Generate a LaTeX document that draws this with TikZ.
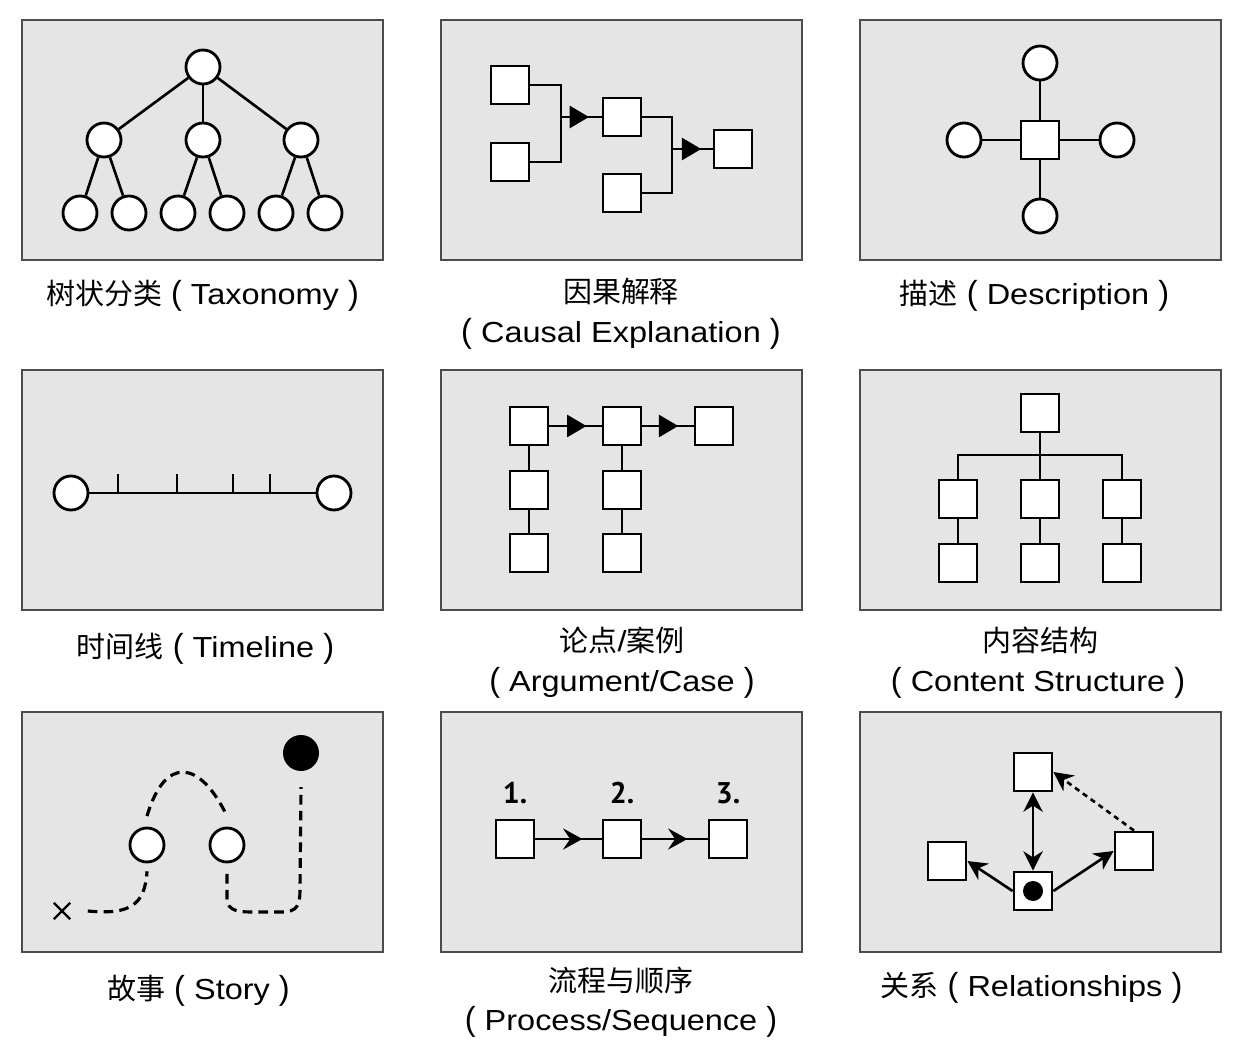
\documentclass[tikz,border=0pt]{standalone}
\usepackage{fontspec}
\setmainfont{Liberation Sans}[FakeStretch=1.12]
\newfontfamily\cjk{Noto Sans CJK SC}
\newfontfamily\numfont{PT Sans}
\newcommand\lpar{\makebox[1em]{\scalebox{1}[1.15]{(}}}
\newcommand\rpar{\makebox[1em]{\scalebox{1}[1.15]{)}}}
\usetikzlibrary{arrows.meta,decorations.markings,shapes.misc}

\begin{document}
\begin{tikzpicture}[x=0.02cm,y=-0.02cm,
  panel/.style={draw=black!70,fill=black!10,line width=1.4pt},
  box/.style={draw,fill=white,line width=1.6pt,minimum size=0.76cm,inner sep=0pt},
  dot/.style={circle,draw,fill=white,line width=1.6pt,minimum size=0.68cm,inner sep=0pt},
  link/.style={line width=1.5pt},
  trail/.style={line width=1.8pt,dash pattern=on 5.5pt off 3.5pt},
  caption/.style={font=\fontsize{16.5}{20}\selectfont,inner sep=0pt},
  num/.style={font=\numfont\bfseries\fontsize{17}{20}\selectfont,inner sep=0pt},
  midtri/.style={link,decoration={markings,mark=at position #1 with {\arrow{Triangle[length=11pt,width=12.5pt]}}},postaction={decorate}},
  midstealth/.style={link,decoration={markings,mark=at position #1 with {\arrow{Stealth[length=11pt,width=12pt,inset=4pt]}}},postaction={decorate}},
  relarrow/.style={link,-{Stealth[length=11pt,width=11pt,inset=3.5pt]}},
  relboth/.style={link,{Stealth[length=11pt,width=11pt,inset=3.5pt]}-{Stealth[length=11pt,width=11pt,inset=3.5pt]}},
]
\useasboundingbox (0,0) rectangle (1243,1050);

\foreach \px in {22,441,860}
  \foreach \py in {20,370,712}
    \draw[panel] (\px,\py) rectangle ++(361,240);

% taxonomy
\node[dot] (t0) at (203,67) {};
\foreach \i/\x in {1/104,2/203,3/301}
  \node[dot] (t\i) at (\x,140) {};
\foreach \i/\x in {1/80,2/129,3/178,4/227,5/276,6/325}
  \node[dot] (l\i) at (\x,213) {};
\foreach \i in {1,2,3}
  \draw[link] (t0) -- (t\i);
\draw[link] (t1) -- (l1) (t1) -- (l2) (t2) -- (l3) (t2) -- (l4) (t3) -- (l5) (t3) -- (l6);
\node[caption] (cap1) at (207,296) {{\cjk 树状分类}\lpar Taxonomy\rpar};

% causal
\node[box] (ca) at (510,85) {};
\node[box] (cb) at (510,162) {};
\node[box] (cc) at (622,117) {};
\node[box] (cd) at (622,193) {};
\node[box] (ce) at (733,149) {};
\coordinate (j1) at (561,117);
\coordinate (j2) at (672,149);
\draw[link] (ca) -| (j1) |- (cb);
\draw[midtri=0.69] (j1) -- (cc);
\draw[link] (cc) -| (j2) |- (cd);
\draw[midtri=0.72] (j2) -- (ce);
\node[caption] (cap2) at (621,292) {\cjk 因果解释};
\node[caption] (cap2b) at (621,334) {\lpar Causal Explanation\rpar};

% description
\node[box] (d0) at (1040,140) {};
\node[dot] (d1) at (1040,63) {};
\node[dot] (d2) at (1117,140) {};
\node[dot] (d3) at (1040,216) {};
\node[dot] (d4) at (964,140) {};
\foreach \i in {1,...,4}
  \draw[link] (d0) -- (d\i);
\node[caption] (cap3) at (1039,296) {{\cjk 描述}\lpar Description\rpar};

% timeline
\node[dot] (tl1) at (71,493) {};
\node[dot] (tl2) at (334,493) {};
\draw[link] (tl1) -- (tl2);
\foreach \x in {118,177,233,270}
  \draw[link] (\x,493) -- (\x,474);
\node[caption] (cap4) at (210,649) {{\cjk 时间线}\lpar Timeline\rpar};

% argument
\foreach \i/\y in {1/426,2/490,3/553} {
  \node[box] (a\i) at (529,\y) {};
  \node[box] (b\i) at (622,\y) {};
}
\node[box] (c1) at (714,426) {};
\draw[link] (a1) -- (a2) -- (a3);
\draw[link] (b1) -- (b2) -- (b3);
\draw[midtri=0.71] (a1) -- (b1);
\draw[midtri=0.70] (b1) -- (c1);
\node[caption] (cap5) at (622,640) {{\cjk 论点}/{\cjk 案例}};
\node[caption] (cap5b) at (622,683) {\lpar Argument/Case\rpar};

% content structure
\node[box] (s0) at (1040,413) {};
\foreach \i/\x in {1/958,2/1040,3/1122} {
  \node[box] (s\i) at (\x,499) {};
  \node[box] (u\i) at (\x,563) {};
  \draw[link] (s\i) -- (u\i);
}
\coordinate (bar) at (1040,455);
\draw[link] (s0) -- (s2);
\draw[link] (s1) |- (bar) -| (s3);
\node[caption] (cap6) at (1040,640) {\cjk 内容结构};
\node[caption] (cap6b) at (1038,683) {\lpar Content Structure\rpar};

% story
\node[cross out,draw,line width=1.4pt,minimum size=0.28cm,inner sep=0pt] (sx) at (62,911) {};
\node[dot] (st1) at (147,845) {};
\node[dot] (st2) at (227,845) {};
\node[circle,fill=black,minimum size=0.72cm,inner sep=0pt] (stend) at (301,753) {};
\draw[trail] ([xshift=10pt]sx.east) .. controls (130,915) and (145,905) .. ([yshift=-4.5pt]st1.south);
\draw[trail] ([yshift=6pt]st1.north) .. controls (165,755) and (200,760) .. ([yshift=6pt]st2.north);
\draw[trail] ([yshift=-6pt]st2.south) -- (227,898) .. controls (227,912) and (240,912) .. (255,912)
  -- (282,912) .. controls (297,912) and (300,905) .. (300,890) -- ([yshift=-9pt]stend.south);
\node[caption] (cap7) at (203,991) {{\cjk 故事}\lpar Story\rpar};

% process
\foreach \i/\x in {1/515,2/622,3/728} {
  \node[box] (p\i) at (\x,839) {};
  \node[num] (n\i) at (\x,793) {\i.};
}
\draw[midstealth=0.71] (p1) -- (p2);
\draw[midstealth=0.69] (p2) -- (p3);
\node[caption] (cap8) at (621,980) {\cjk 流程与顺序};
\node[caption] (cap8b) at (621,1022) {\lpar Process/Sequence\rpar};

% relationships
\node[box] (r0) at (1033,891) {};
\fill (r0.center) circle (0.2cm);
\node[box] (r1) at (1033,772) {};
\node[box] (r2) at (947,861) {};
\node[box] (r3) at (1134,851) {};
\draw[relboth] (r0) -- (r1);
\draw[relarrow] (r0.west) -- (r2.east);
\draw[relarrow] (r0.east) -- (r3.west);
\draw[relarrow,dash pattern=on 3pt off 2.5pt] (r3.north) -- (r1.east);
\node[caption] (cap9) at (1036,988) {{\cjk 关系}\lpar Relationships\rpar};

\end{tikzpicture}
\end{document}
